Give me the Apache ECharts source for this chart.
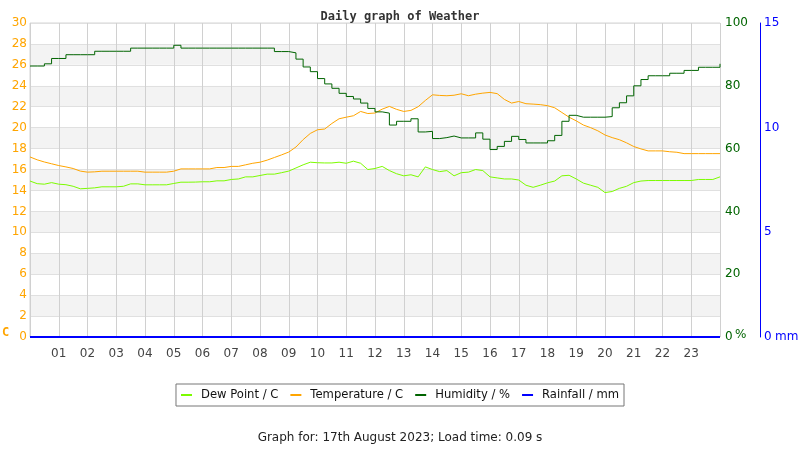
<!DOCTYPE html>
<html>
<head>
<meta charset="utf-8">
<title>Daily graph of Weather</title>
<script src="https://cdn.jsdelivr.net/npm/echarts@6/dist/echarts.min.js"></script>
<style>
  html, body { margin: 0; padding: 0; background: #fff; }
  #chart { width: 800px; height: 450px; }
</style>
</head>
<body>
<div id="chart"></div>
<script>
// readings every 15 minutes, 00:00 .. 24:00
const dewPoint = [
  14.9, 14.65, 14.6, 14.75, 14.6, 14.55, 14.4, 14.16, 14.2, 14.25, 14.35, 14.35,
  14.35, 14.4, 14.63, 14.63, 14.54, 14.54, 14.54, 14.54, 14.67, 14.79, 14.79, 14.8,
  14.83, 14.83, 14.92, 14.92, 15.05, 15.1, 15.3, 15.3, 15.43, 15.56, 15.56, 15.7,
  15.85, 16.15, 16.45, 16.7, 16.65, 16.63, 16.63, 16.7, 16.6, 16.8, 16.6, 16.0,
  16.1, 16.3, 15.9, 15.6, 15.4, 15.5, 15.3, 16.25, 16.0, 15.8, 15.9, 15.4,
  15.7, 15.75, 16.0, 15.9, 15.3, 15.2, 15.1, 15.1, 15.0, 14.5, 14.3, 14.5,
  14.73, 14.9, 15.4, 15.45, 15.1, 14.7, 14.5, 14.3, 13.8, 13.9, 14.2, 14.4,
  14.75, 14.9, 14.95, 14.95, 14.95, 14.95, 14.95, 14.95, 14.95, 15.05, 15.05, 15.05,
  15.3
];
const temperature = [
  17.2, 16.93, 16.72, 16.55, 16.38, 16.25, 16.1, 15.85, 15.75, 15.78, 15.84, 15.84,
  15.84, 15.84, 15.84, 15.84, 15.75, 15.75, 15.75, 15.75, 15.84, 16.06, 16.06, 16.06,
  16.06, 16.06, 16.19, 16.19, 16.3, 16.3, 16.45, 16.6, 16.7, 16.9, 17.15, 17.4,
  17.67, 18.15, 18.86, 19.45, 19.8, 19.87, 20.4, 20.85, 21.0, 21.14, 21.55, 21.35,
  21.4, 21.77, 22.03, 21.75, 21.55, 21.65, 22.0, 22.6, 23.14, 23.08, 23.05, 23.1,
  23.24, 23.05, 23.2, 23.3, 23.37, 23.25, 22.7, 22.35, 22.5, 22.29, 22.25, 22.2,
  22.1, 21.9, 21.45, 21.0, 20.65, 20.25, 20.0, 19.7, 19.3, 19.05, 18.85, 18.55,
  18.2, 17.97, 17.78, 17.78, 17.78, 17.7, 17.65, 17.52, 17.52, 17.52, 17.52, 17.52,
  17.52
];
const humidity = [
  86.3, 86.3, 87.0, 88.7, 88.7, 89.9, 89.9, 89.9, 89.9, 91.0, 91.0, 91.0,
  91.0, 91.0, 92.0, 92.0, 92.0, 92.0, 92.0, 92.0, 92.9, 92.0, 92.0, 92.0,
  92.0, 92.0, 92.0, 92.0, 92.0, 92.0, 92.0, 92.0, 92.0, 92.0, 90.9, 90.9,
  90.5, 88.5, 86.0, 84.5, 82.3, 80.6, 79.2, 77.6, 76.6, 75.8, 74.5, 72.8,
  71.7, 71.3, 67.5, 68.7, 68.7, 69.5, 65.3, 65.5, 63.2, 63.5, 64.0, 63.4,
  63.4, 63.4, 65.0, 63.0, 59.7, 60.7, 62.3, 63.9, 62.9, 61.8, 61.8, 61.8,
  62.5, 64.2, 68.7, 70.6, 70.0, 70.0, 70.0, 70.0, 70.2, 73.0, 74.6, 76.8,
  80.0, 82.0, 83.2, 83.2, 83.2, 84.0, 84.0, 84.9, 84.9, 85.9, 85.9, 85.9,
  87.0
];
const rainfall = new Array(97).fill(0);

const seriesNames = ['Dew Point / C', 'Temperature / C', 'Humidity / %', 'Rainfall / mm'];
const seriesColors = ['#7cfc00', '#ffa500', '#006400', '#0000ff'];
const hourLabels = ['01', '02', '03', '04', '05', '06', '07', '08', '09', '10', '11', '12',
  '13', '14', '15', '16', '17', '18', '19', '20', '21', '22', '23'];

function pairs(values) {
  return values.map(function (v, i) { return [i / 4, v]; });
}

const chart = echarts.init(document.getElementById('chart'), null, { renderer: 'canvas' });

chart.setOption({
  animation: false,
  backgroundColor: '#fff',
  color: seriesColors,
  title: {
    text: 'Daily graph of Weather',
    left: 'center',
    top: 6,
    textStyle: {
      fontFamily: 'DejaVu Sans Mono',
      fontWeight: 'bold',
      fontSize: 12,
      color: '#333'
    }
  },
  legend: {
    bottom: 44,
    left: 'center',
    data: seriesNames,
    icon: 'rect',
    itemWidth: 11,
    itemHeight: 2,
    itemGap: 12,
    borderColor: '#777',
    borderWidth: 1,
    borderRadius: 0,
    padding: [5, 5, 5, 5],
    textStyle: { fontFamily: 'DejaVu Sans', fontSize: 11.6, color: '#111', padding: [0, 0, 0, 4] }
  },
  grid: {
    left: 30,
    right: 80,
    top: 23,
    bottom: 113,
    show: true,
    borderColor: '#d4d4d4',
    borderWidth: 1
  },
  xAxis: {
    type: 'value',
    min: 0,
    max: 24,
    interval: 1,
    axisLine: { show: false },
    axisTick: { show: false },
    splitLine: { show: true, lineStyle: { color: '#d0d0d0', width: 1 } },
    axisLabel: {
      fontFamily: 'DejaVu Sans',
      fontSize: 12,
      color: '#444',
      margin: 11,
      formatter: function (v) {
        return (v >= 1 && v <= 23) ? hourLabels[v - 1] : '';
      }
    }
  },
  yAxis: [
    {
      type: 'value',
      min: 0,
      max: 30,
      interval: 2,
      position: 'left',
      axisLine: { show: false },
      axisTick: { show: false },
      axisLabel: { fontFamily: 'DejaVu Sans', fontSize: 12, color: '#ffa500', margin: 3, verticalAlign: 'middle', padding: [4, 0, 0, 0] },
      splitLine: { show: true, lineStyle: { color: '#e0e0e0' } },
      splitArea: { show: true, areaStyle: { color: ['#ffffff', '#f3f3f3'] } }
    },
    {
      type: 'value',
      min: 0,
      max: 100,
      interval: 20,
      position: 'right',
      axisLine: { show: false },
      axisTick: { show: false },
      splitLine: { show: false },
      axisLabel: { fontFamily: 'DejaVu Sans', fontSize: 12, color: '#006400', margin: 5, verticalAlign: 'middle', padding: [4, 0, 0, 0] }
    },
    {
      type: 'value',
      min: 0,
      max: 15,
      interval: 5,
      position: 'right',
      offset: 40,
      axisLine: { show: true, lineStyle: { color: '#0000ff', width: 1 } },
      axisTick: { show: false },
      splitLine: { show: false },
      axisLabel: { fontFamily: 'DejaVu Sans', fontSize: 12, color: '#0000ff', margin: 4, verticalAlign: 'middle', padding: [4, 0, 0, 0] }
    }
  ],
  graphic: [
    {
      type: 'text', left: 2, top: 327,
      style: { text: 'C', fill: '#ffa500', font: 'bold 12px "DejaVu Sans Mono"' }
    },
    {
      type: 'text', left: 735, top: 329,
      style: { text: '%', fill: '#006400', font: '12px "DejaVu Sans"' }
    },
    {
      type: 'text', left: 775, top: 331,
      style: { text: 'mm', fill: '#0000ff', font: '12px "DejaVu Sans"' }
    },
    {
      type: 'text', left: 'center', top: 432,
      style: {
        text: 'Graph for: 17th August 2023; Load time: 0.09 s',
        fill: '#222',
        font: '12px "DejaVu Sans"'
      }
    }
  ],
  series: [
    {
      name: seriesNames[0], type: 'line', yAxisIndex: 0, showSymbol: false,
      lineStyle: { width: 1, color: seriesColors[0] }, data: pairs(dewPoint)
    },
    {
      name: seriesNames[1], type: 'line', yAxisIndex: 0, showSymbol: false,
      lineStyle: { width: 1, color: seriesColors[1] }, data: pairs(temperature)
    },
    {
      name: seriesNames[2], type: 'line', yAxisIndex: 1, showSymbol: false, step: 'end',
      lineStyle: { width: 1, color: seriesColors[2] }, data: pairs(humidity)
    },
    {
      name: seriesNames[3], type: 'line', yAxisIndex: 2, showSymbol: false,
      lineStyle: { width: 2, color: seriesColors[3] }, data: pairs(rainfall)
    }
  ]
});
</script>
</body>
</html>
